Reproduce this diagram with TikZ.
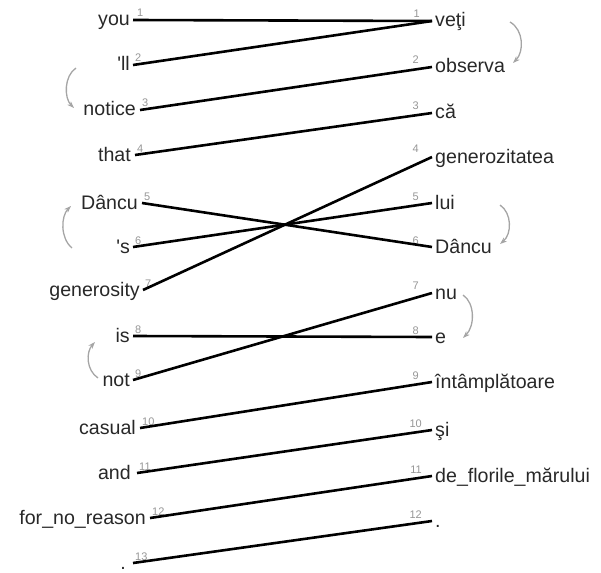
\documentclass[tikz,border=0pt]{standalone}
\usepackage{fontspec}
\setmainfont{Liberation Sans}
\usetikzlibrary{arrows.meta}
\definecolor{numgray}{RGB}{150,150,150}
\definecolor{arrgray}{RGB}{165,165,165}
\definecolor{txt}{RGB}{40,40,40}
\tikzset{
  lword/.style={anchor=base east, inner sep=0pt, text=txt, font=\fontsize{19.6}{20}\selectfont},
  rword/.style={anchor=base west, inner sep=0pt, text=txt, font=\fontsize{19.6}{20}\selectfont},
  lnum/.style={anchor=base west, inner sep=0pt, text=numgray, font=\fontsize{11}{12}\selectfont},
  rnum/.style={anchor=base east, inner sep=0pt, text=numgray, font=\fontsize{11}{12}\selectfont},
  link/.style={line width=2.6pt, black},
  reorder/.style={arrgray, line width=1.3pt, -{Stealth[length=7pt,width=5pt]}}
}
\begin{document}
\begin{tikzpicture}[x=1pt,y=-1pt]
\useasboundingbox (0,0) rectangle (601,572);
% left anchors
\coordinate (L1) at (133,20);
\coordinate (L2) at (133,65);
\coordinate (L3) at (140,110);
\coordinate (L4) at (135,155);
\coordinate (L5) at (142,203);
\coordinate (L6) at (133,247);
\coordinate (L7) at (143,290);
\coordinate (L8) at (133,336);
\coordinate (L9) at (133,380);
\coordinate (L10) at (140,428);
\coordinate (L11) at (137,473);
\coordinate (L12) at (150,518);
\coordinate (L13) at (133,563);
% right anchors
\coordinate (R1) at (432,21);
\coordinate (R2) at (432,67);
\coordinate (R3) at (432,113);
\coordinate (R4) at (432,157);
\coordinate (R5) at (432,203);
\coordinate (R6) at (432,247);
\coordinate (R7) at (432,293);
\coordinate (R8) at (432,337);
\coordinate (R9) at (432,382);
\coordinate (R10) at (432,430);
\coordinate (R11) at (432,476);
\coordinate (R12) at (432,521);
% left words
\node[lword] (w1) at (130,26) {you};
\node[lword] (w2) at (130,71) {\textquotesingle ll};
\node[lword] (w3) at (136,116) {notice};
\node[lword] (w4) at (131,161) {that};
\node[lword] (w5) at (138,209) {Dâncu};
\node[lword] (w6) at (130,253) {\textquotesingle s};
\node[lword] (w7) at (140,296) {generosity};
\node[lword] (w8) at (130,342) {is};
\node[lword] (w9) at (130,386) {not};
\node[lword] (w10) at (136,434) {casual};
\node[lword] (w11) at (131,479) {and};
\node[lword] (w12) at (146,524) {for\_no\_reason};
\node[lword] (w13) at (126,569) {.};
% left numbers
\node[lnum] (n1) at (137,17) {1};
\node[lnum] (n2) at (135,62) {2};
\node[lnum] (n3) at (142,107) {3};
\node[lnum] (n4) at (137,152) {4};
\node[lnum] (n5) at (144,200) {5};
\node[lnum] (n6) at (135,244) {6};
\node[lnum] (n7) at (145,287) {7};
\node[lnum] (n8) at (135,333) {8};
\node[lnum] (n9) at (135,377) {9};
\node[lnum] (n10) at (142,425) {10};
\node[lnum] (n11) at (139,470) {11};
\node[lnum] (n12) at (152,515) {12};
\node[lnum] (n13) at (135,560) {13};
% right words
\node[rword] (v1) at (435,27) {veţi};
\node[rword] (v2) at (435,73) {observa};
\node[rword] (v3) at (435,119) {că};
\node[rword] (v4) at (435,163) {generozitatea};
\node[rword] (v5) at (435,209) {lui};
\node[rword] (v6) at (435,253) {Dâncu};
\node[rword] (v7) at (435,299) {nu};
\node[rword] (v8) at (435,343) {e};
\node[rword] (v9) at (435,388) {întâmplătoare};
\node[rword] (v10) at (435,436) {şi};
\node[rword] (v11) at (435,482) {de\_florile\_mărului};
\node[rword] (v12) at (435,527) {.};
% right numbers
\node[rnum] (m1) at (420,18) {1};
\node[rnum] (m2) at (419,64) {2};
\node[rnum] (m3) at (419,110) {3};
\node[rnum] (m4) at (419,153) {4};
\node[rnum] (m5) at (419,200) {5};
\node[rnum] (m6) at (419,244) {6};
\node[rnum] (m7) at (419,289) {7};
\node[rnum] (m8) at (419,334) {8};
\node[rnum] (m9) at (419,379) {9};
\node[rnum] (m10) at (422,427) {10};
\node[rnum] (m11) at (422,473) {11};
\node[rnum] (m12) at (422,518) {12};
% links
\draw[link] (L1) -- (R1);
\draw[link] (L2) -- (R1);
\draw[link] (L3) -- (R2);
\draw[link] (L4) -- (R3);
\draw[link] (L5) -- (R6);
\draw[link] (L6) -- (R5);
\draw[link] (L7) -- (R4);
\draw[link] (L8) -- (R8);
\draw[link] (L9) -- (R7);
\draw[link] (L10) -- (R9);
\draw[link] (L11) -- (R10);
\draw[link] (L12) -- (R11);
\draw[link] (L13) -- (R12);
% reordering arrows
\coordinate (a1s) at (76,68);  \coordinate (a1e) at (74,108);
\coordinate (a2s) at (72,248); \coordinate (a2e) at (71,206);
\coordinate (a3s) at (98,378); \coordinate (a3e) at (95,342);
\coordinate (b1s) at (510,22); \coordinate (b1e) at (513,63);
\coordinate (b2s) at (500,205); \coordinate (b2e) at (500,244);
\coordinate (b3s) at (463,295); \coordinate (b3e) at (463,338);
\draw[reorder] (a1s) .. controls (64,76) and (64,98) .. (a1e);
\draw[reorder] (a2s) .. controls (60,238) and (61,216) .. (a2e);
\draw[reorder] (a3s) .. controls (86,370) and (86,352) .. (a3e);
\draw[reorder] (b1s) .. controls (524,30) and (524,52) .. (b1e);
\draw[reorder] (b2s) .. controls (512,213) and (512,234) .. (b2e);
\draw[reorder] (b3s) .. controls (475,303) and (475,326) .. (b3e);
\end{tikzpicture}
\end{document}
